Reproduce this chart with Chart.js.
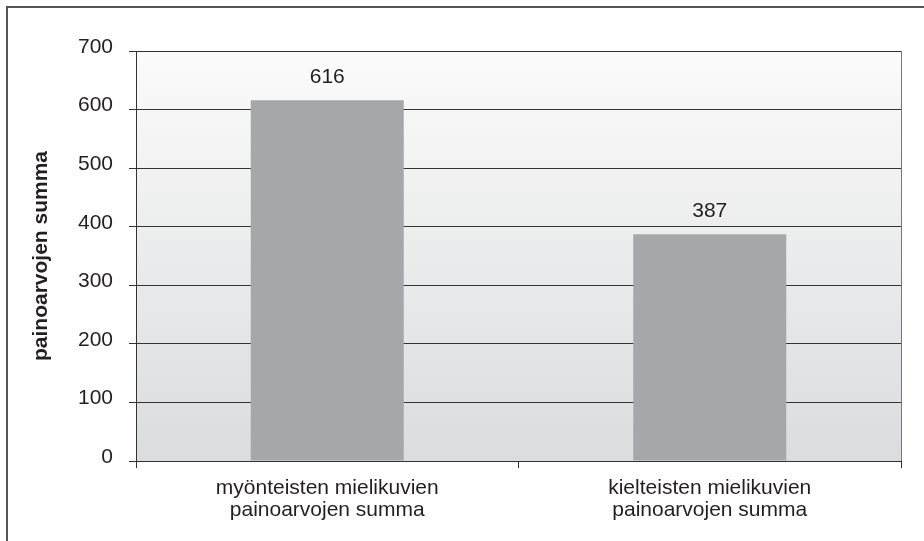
<!DOCTYPE html>
<html>
<head>
<meta charset="utf-8">
<script src="https://cdn.jsdelivr.net/npm/chart.js@4/dist/chart.umd.min.js"></script>
<style>
  html, body { margin: 0; padding: 0; background: #fff; }
  #wrap { width: 924px; height: 541px; position: relative; }
</style>
</head>
<body>
<div id="wrap"><canvas id="c"></canvas></div>
<script>
const categories = [
  ["myönteisten mielikuvien", "painoarvojen summa"],
  ["kielteisten mielikuvien", "painoarvojen summa"]
];
const values = [616, 387];
const yAxisTitle = "painoarvojen summa";
const yMin = 0, yMax = 700, yStep = 100;

const FONT = "'Liberation Sans', Arial, sans-serif";
const TEXT = "#231f20";

const framePlugin = {
  id: 'frame',
  beforeDraw(chart) {
    const ctx = chart.ctx;
    const a = chart.chartArea;
    ctx.save();
    ctx.fillStyle = '#ffffff';
    ctx.fillRect(0, 0, chart.width, chart.height);
    const g = ctx.createLinearGradient(0, a.top, 0, a.bottom);
    g.addColorStop(0, '#fbfbfb');
    g.addColorStop(1, '#dbdcde');
    ctx.fillStyle = g;
    ctx.fillRect(a.left, a.top, a.right - a.left, a.bottom - a.top);
    ctx.strokeStyle = '#555555';
    ctx.lineWidth = 2;
    ctx.beginPath();
    ctx.moveTo(7, chart.height);
    ctx.lineTo(7, 7);
    ctx.lineTo(chart.width, 7);
    ctx.stroke();
    ctx.restore();
  },
  afterDraw(chart) {
    const ctx = chart.ctx;
    const a = chart.chartArea;
    ctx.save();
    ctx.strokeStyle = '#777777';
    ctx.lineWidth = 1;
    ctx.beginPath();
    ctx.moveTo(Math.round(a.right) + 0.5, a.top);
    ctx.lineTo(Math.round(a.right) + 0.5, a.bottom);
    ctx.stroke();
    ctx.restore();
  }
};

const valueLabels = {
  id: 'valueLabels',
  afterDatasetsDraw(chart) {
    const ctx = chart.ctx;
    ctx.save();
    ctx.font = '21px ' + FONT;
    ctx.fillStyle = TEXT;
    ctx.textAlign = 'center';
    ctx.textBaseline = 'middle';
    const meta = chart.getDatasetMeta(0);
    meta.data.forEach((el, i) => {
      ctx.fillText(String(chart.data.datasets[0].data[i]), el.x, el.y - 23);
    });
    ctx.restore();
  }
};

new Chart(document.getElementById('c'), {
  type: 'bar',
  data: {
    labels: categories,
    datasets: [{
      data: values,
      backgroundColor: '#a6a7aa',
      borderWidth: 0,
      barPercentage: 0.4,
      categoryPercentage: 1.0
    }]
  },
  options: {
    responsive: true,
    maintainAspectRatio: false,
    animation: false,
    layout: { padding: { top: 51, right: 23, bottom: 0, left: 0 } },
    plugins: {
      legend: { display: false },
      tooltip: { enabled: false }
    },
    scales: {
      x: {
        grid: {
          offset: true,
          drawOnChartArea: false,
          drawTicks: true,
          tickLength: 7,
          color: '#333333'
        },
        border: { color: '#333333', width: 1 },
        ticks: {
          font: { family: FONT, size: 21, lineHeight: 1.05 },
          color: TEXT,
          padding: 9,
          maxRotation: 0,
          autoSkip: false
        },
        afterFit(s) { s.height = 80; }
      },
      y: {
        min: yMin,
        max: yMax,
        grid: {
          color: '#333333',
          tickLength: 7,
          drawTicks: true
        },
        border: { color: '#333333', width: 1 },
        ticks: {
          stepSize: yStep,
          font: { family: FONT, size: 21 },
          color: TEXT,
          padding: 16,
          labelOffset: -4
        },
        title: {
          display: true,
          text: yAxisTitle,
          font: { family: FONT, size: 21, weight: 'bold' },
          color: TEXT,
          padding: { top: 29, bottom: 0 }
        },
        afterFit(s) { s.width = 136; }
      }
    }
  },
  plugins: [framePlugin, valueLabels]
});
</script>
</body>
</html>
